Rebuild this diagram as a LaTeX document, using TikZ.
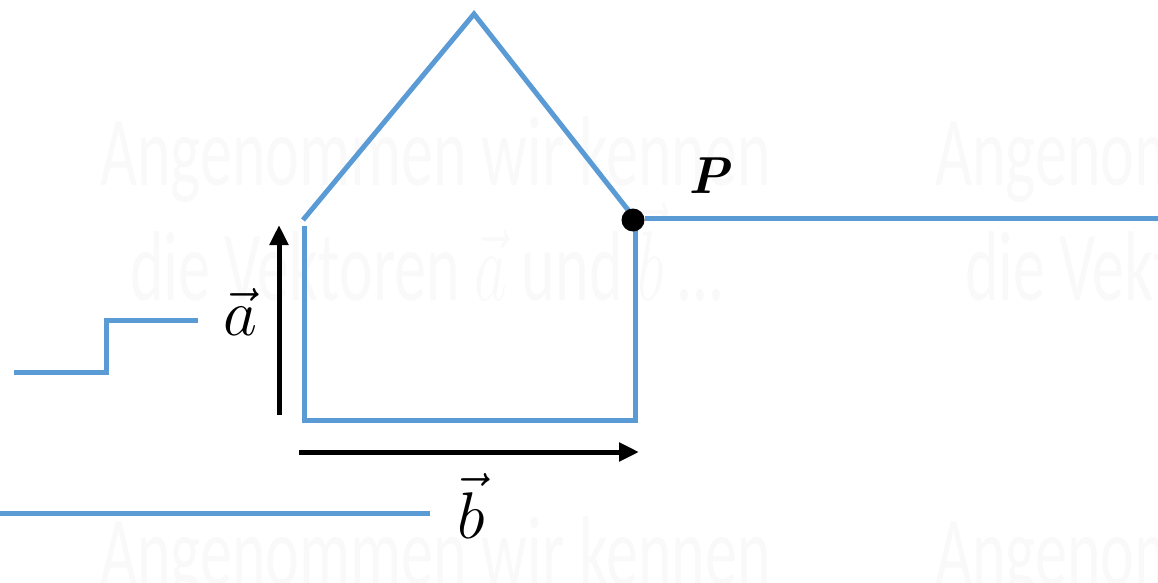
\documentclass[tikz,border=0pt]{standalone}
\usepackage{fix-cm}
\usepackage{fontspec}
\newfontfamily\wm{Carlito}
\usetikzlibrary{arrows.meta}
\definecolor{blu}{HTML}{5B9BD5}
\definecolor{wmc}{HTML}{F9F9F9}
\begin{document}
\begin{tikzpicture}[x=1pt,y=-1pt,
  wall/.style={blu,line width=5pt},
  vecarrow/.style={line width=5pt,-{Triangle[length=20pt,width=18pt]}},
  wmtext/.style={text=wmc,font=\wm\fontsize{64}{64}\selectfont,inner sep=0pt,anchor=base west},
  lbl/.style={inner sep=0pt,font=\fontsize{66}{66}\selectfont}]
\useasboundingbox (0,0) rectangle (1158,583);
\clip (0,0) rectangle (1158,583);
% faint watermark text
\node[wmtext] (w1) at (100,185) {\scalebox{1}[1.55]{Angenommen wir kennen}};
\node[wmtext] (w2) at (130,300) {\scalebox{1}[1.55]{die Vektoren $\vec a$ und $\vec b$ \dots}};
\node[wmtext] (w3) at (935,185) {\scalebox{1}[1.55]{Angenommen wir kennen}};
\node[wmtext] (w4) at (965,300) {\scalebox{1}[1.55]{die Vektoren $\vec a$ und $\vec b$ \dots}};
\node[wmtext] (w5) at (100,585) {\scalebox{1}[1.55]{Angenommen wir kennen}};
\node[wmtext] (w6) at (935,585) {\scalebox{1}[1.55]{Angenommen wir kennen}};
% coordinates
\coordinate (r1) at (303,220);
\coordinate (apex) at (474,14);
\coordinate (r2) at (632,215);
\coordinate (w1a) at (304,226);
\coordinate (w1b) at (304,420);
\coordinate (w2b) at (635,420);
\coordinate (w2a) at (635,228);
\coordinate (hr) at (1160,218);
\coordinate (s1) at (14,372);
\coordinate (s2) at (106,372);
\coordinate (s3) at (106,320);
\coordinate (s4) at (198,320);
\coordinate (g1) at (0,513);
\coordinate (g2) at (430,513);
\coordinate (a0) at (279,415);
\coordinate (a1) at (279,225);
\coordinate (b0) at (299,452);
\coordinate (b1) at (639,452);
% house
\draw[wall] (r1) -- (apex) -- (r2);
\draw[wall] (w1a) -- (w1b) -- (w2b) -- (w2a);
\node[circle,fill=black,inner sep=0pt,minimum size=23pt] (P) at (633,220) {};
\draw[wall] (P.east) ++(0,-2) coordinate (pe) (pe) -- (hr);
\draw[wall] (s1) -- (s2) -- (s3) -- (s4);
\draw[wall] (g1) -- (g2);
% vectors
\draw[vecarrow] (a0) -- (a1);
\draw[vecarrow] (b0) -- (b1);
\node[lbl] (la) at (240,312) {$\vec a$};
\node[lbl] (lb) at (471,506) {$\vec b$};
\node[inner sep=0pt,font=\fontsize{52}{52}\selectfont] (lp) at (710,176) {\textbf{\textit{P}}};
\end{tikzpicture}
\end{document}
